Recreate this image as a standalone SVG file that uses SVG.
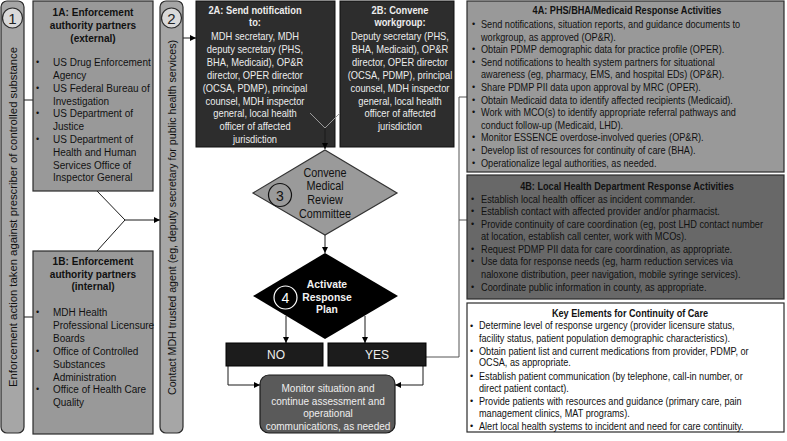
<svg xmlns="http://www.w3.org/2000/svg" width="787" height="441" viewBox="0 0 787 441">
<defs>
<marker id="arr" markerWidth="6" markerHeight="6" refX="6" refY="3" orient="auto" markerUnits="userSpaceOnUse"><path d="M0,0 L6,3 L0,6 z" fill="#000"/></marker>
<style>
text{font-family:"Liberation Sans",Arial,sans-serif;}
.bar{fill:#a6a6a6;stroke:#2b2b2b;stroke-width:1.2;}
.bc{fill:#d9d9d9;stroke:#2b2b2b;stroke-width:1.2;}
.bn{font-size:15px;fill:#222;text-anchor:middle;}
.vt{font-size:11px;fill:#111;text-anchor:middle;}
.mid{fill:#999999;stroke:#2b2b2b;stroke-width:1.2;}
.dk{fill:#2d2d2d;stroke:#111;stroke-width:1;}
.t11{font-size:11px;fill:#111;}
.t11b{font-size:11px;fill:#111;font-weight:bold;text-anchor:middle;}
.w11{font-size:10.6px;fill:#ececec;text-anchor:middle;}
.w11b{font-size:10.6px;fill:#ececec;font-weight:bold;text-anchor:middle;}
.r{font-size:10.5px;fill:#111;}
.rb{font-size:10.5px;fill:#111;font-weight:bold;text-anchor:middle;}
.bul{font-size:9px;fill:#111;}
.cn{fill:none;stroke:#1a1a1a;stroke-width:1;}
.cg{fill:none;stroke:#555;stroke-width:1;}
</style>
</defs>

<g id="connectors">
<path class="cn" d="M24,100 H33"/>
<path class="cn" d="M24,317 H33"/>
<path class="cn" d="M97,191 L125,220 L97,251"/>
<path class="cn" d="M125,220 H160" marker-end="url(#arr)"/>
<path class="cn" d="M183,38 H196" marker-end="url(#arr)"/>
<path class="cn" d="M325,235 V253" marker-end="url(#arr)"/>
<path class="cn" d="M286,316 V343" marker-end="url(#arr)"/>
<path class="cn" d="M365,316 V343" marker-end="url(#arr)"/>
<path class="cn" d="M228,366 V385 H260" marker-end="url(#arr)"/>
<path class="cn" d="M423,366 V385 H395" marker-end="url(#arr)"/>
<path class="cg" d="M426,357 H459 V97 H467 M459,220 H467"/>
</g>

<g id="bar1">
<rect class="bar" x="1" y="1" width="23" height="432" rx="6"/>
<circle class="bc" cx="12.5" cy="18" r="10"/>
<text class="bn" x="12.5" y="23.5">1</text>
<text class="vt" transform="translate(16.5 217) rotate(-90)" x="0" y="0" textLength="340" lengthAdjust="spacingAndGlyphs">Enforcement action taken against prescriber of controlled substance</text>
</g>

<g id="n1A">
<rect class="mid" x="33" y="1" width="120" height="190"/>
<g transform="translate(93 0) scale(0.92 1)">
<text class="t11b" x="0" y="16">1A: Enforcement</text>
<text class="t11b" x="0" y="29">authority partners</text>
<text class="t11b" x="0" y="42">(external)</text>
</g>
<g transform="translate(53 0) scale(0.91 1)">
<text class="t11" x="0" y="66">US Drug Enforcement</text>
<text class="t11" x="0" y="79">Agency</text>
<text class="t11" x="0" y="92">US Federal Bureau of</text>
<text class="t11" x="0" y="105">Investigation</text>
<text class="t11" x="0" y="117">US Department of</text>
<text class="t11" x="0" y="130">Justice</text>
<text class="t11" x="0" y="143">US Department of</text>
<text class="t11" x="0" y="156">Health and Human</text>
<text class="t11" x="0" y="169">Services Office of</text>
<text class="t11" x="0" y="181">Inspector General</text>
</g>
<text class="bul" x="36" y="65">•</text>
<text class="bul" x="36" y="91">•</text>
<text class="bul" x="36" y="116">•</text>
<text class="bul" x="36" y="142">•</text>
</g>

<g id="n1B">
<rect class="mid" x="33" y="251" width="120" height="183"/>
<g transform="translate(93 0) scale(0.92 1)">
<text class="t11b" x="0" y="265">1B: Enforcement</text>
<text class="t11b" x="0" y="278">authority partners</text>
<text class="t11b" x="0" y="290">(internal)</text>
</g>
<g transform="translate(53 0) scale(0.91 1)">
<text class="t11" x="0" y="316">MDH Health</text>
<text class="t11" x="0" y="329">Professional Licensure</text>
<text class="t11" x="0" y="342">Boards</text>
<text class="t11" x="0" y="355">Office of Controlled</text>
<text class="t11" x="0" y="368">Substances</text>
<text class="t11" x="0" y="381">Administration</text>
<text class="t11" x="0" y="393">Office of Health Care</text>
<text class="t11" x="0" y="406">Quality</text>
</g>
<text class="bul" x="36" y="315">•</text>
<text class="bul" x="36" y="354">•</text>
<text class="bul" x="36" y="392">•</text>
</g>

<g id="bar2">
<rect class="bar" x="160" y="1" width="23" height="432" rx="6"/>
<circle class="bc" cx="171.5" cy="18" r="10"/>
<text class="bn" x="171.5" y="23.5">2</text>
<text class="vt" transform="translate(175.5 217.5) rotate(-90)" x="0" y="0" textLength="355" lengthAdjust="spacingAndGlyphs">Contact MDH trusted agent (eg, deputy secretary for public health services)</text>
</g>

<g id="n2A">
<rect class="dk" x="196" y="1" width="139" height="146"/>
<g transform="translate(255 0) scale(0.88 1)">
<text class="w11b" x="0" y="14">2A: Send notification</text>
<text class="w11b" x="0" y="26">to:</text>
<text class="w11" x="0" y="40">MDH secretary, MDH</text>
<text class="w11" x="0" y="53">deputy secretary (PHS,</text>
<text class="w11" x="0" y="66">BHA, Medicaid), OP&amp;R</text>
<text class="w11" x="0" y="79">director, OPER director</text>
<text class="w11" x="0" y="92">(OCSA, PDMP), principal</text>
<text class="w11" x="0" y="105">counsel, MDH inspector</text>
<text class="w11" x="0" y="117">general, local health</text>
<text class="w11" x="0" y="130">officer of affected</text>
<text class="w11" x="0" y="143">jurisdiction</text>
</g>
</g>

<g id="n2B">
<rect class="dk" x="340" y="1" width="114" height="146"/>
<g transform="translate(400 0) scale(0.88 1)">
<text class="w11b" x="0" y="14">2B: Convene</text>
<text class="w11b" x="0" y="26">workgroup:</text>
<text class="w11" x="0" y="40">Deputy secretary (PHS,</text>
<text class="w11" x="0" y="53">BHA, Medicaid), OP&amp;R</text>
<text class="w11" x="0" y="66">director, OPER director</text>
<text class="w11" x="0" y="79">(OCSA, PDMP), principal</text>
<text class="w11" x="0" y="92">counsel, MDH inspector</text>
<text class="w11" x="0" y="105">general, local health</text>
<text class="w11" x="0" y="117">officer of affected</text>
<text class="w11" x="0" y="130">jurisdiction</text>
</g>
</g>

<g id="vjoin">
<path d="M310,113 L325,128 L340,113" fill="none" stroke="#9a9a9a" stroke-width="1"/>
<path d="M325,128 V149" fill="none" stroke="#1a1a1a" stroke-width="1" marker-end="url(#arr)"/>
</g>

<g id="n3">
<polygon points="325,150 397,193 325,235 253,193" fill="#9a9a9a" stroke="#333" stroke-width="1.2"/>
<circle cx="280" cy="195" r="11.5" fill="none" stroke="#111" stroke-width="1.2"/>
<text x="280" y="200.5" style="font-size:14px;fill:#111;text-anchor:middle">3</text>
<g transform="translate(325 0) scale(0.9 1)">
<text x="0" y="177" style="font-size:12px;fill:#111;text-anchor:middle">Convene</text>
<text x="0" y="190.5" style="font-size:12px;fill:#111;text-anchor:middle">Medical</text>
<text x="0" y="204.5" style="font-size:12px;fill:#111;text-anchor:middle">Review</text>
<text x="0" y="218" style="font-size:12px;fill:#111;text-anchor:middle">Committee</text>
</g>
</g>

<g id="n4">
<polygon points="325,253 398,296 325,339 253,296" fill="#000"/>
<circle cx="285.5" cy="297.5" r="11.5" fill="none" stroke="#fff" stroke-width="1.2"/>
<text x="285.5" y="303" style="font-size:14px;fill:#fff;text-anchor:middle">4</text>
<g transform="translate(327 0) scale(0.9 1)">
<text x="0" y="288" style="font-size:11.5px;fill:#f2f2f2;font-weight:bold;text-anchor:middle">Activate</text>
<text x="0" y="301" style="font-size:11.5px;fill:#f2f2f2;font-weight:bold;text-anchor:middle">Response</text>
<text x="0" y="313.5" style="font-size:11.5px;fill:#f2f2f2;font-weight:bold;text-anchor:middle">Plan</text>
</g>
</g>

<g id="nNO">
<rect x="226" y="343" width="97" height="23" fill="#1c1c1c" stroke="#000" stroke-width="1"/>
<text x="276" y="358.5" style="font-size:12px;fill:#eee;text-anchor:middle">NO</text>
</g>

<g id="nYES">
<rect x="328" y="343" width="98" height="23" fill="#1c1c1c" stroke="#000" stroke-width="1"/>
<text x="377" y="358.5" style="font-size:12px;fill:#eee;text-anchor:middle">YES</text>
</g>

<g id="nMonitor">
<rect x="260" y="375" width="135" height="58" rx="9" fill="#5a5a5a" stroke="#1a1a1a" stroke-width="1.2"/>
<g transform="translate(328 0) scale(0.88 1)">
<text x="0" y="392.3" style="font-size:11.4px;fill:#eee;text-anchor:middle">Monitor situation and</text>
<text x="0" y="404.7" style="font-size:11.4px;fill:#eee;text-anchor:middle">continue assessment and</text>
<text x="0" y="417.3" style="font-size:11.4px;fill:#eee;text-anchor:middle">operational</text>
<text x="0" y="430.5" style="font-size:11.4px;fill:#eee;text-anchor:middle">communications, as needed</text>
</g>
</g>

<g id="n4A">
<rect class="mid" x="467" y="1" width="317" height="171"/>
<g transform="translate(627 0) scale(0.87 1)">
<text class="rb" x="0" y="14.5">4A: PHS/BHA/Medicaid Response Activities</text>
</g>
<g transform="translate(481 0) scale(0.87 1)">
<text class="r" x="0" y="28">Send notifications, situation reports, and guidance documents to</text>
<text class="r" x="0" y="40.6">workgroup, as approved (OP&amp;R).</text>
<text class="r" x="0" y="53.2">Obtain PDMP demographic data for practice profile (OPER).</text>
<text class="r" x="0" y="65.8">Send notifications to health system partners for situational</text>
<text class="r" x="0" y="78.4">awareness (eg, pharmacy, EMS, and hospital EDs) (OP&amp;R).</text>
<text class="r" x="0" y="91">Share PDMP PII data upon approval by MRC (OPER).</text>
<text class="r" x="0" y="103.6">Obtain Medicaid data to identify affected recipients (Medicaid).</text>
<text class="r" x="0" y="116.2">Work with MCO(s) to identify appropriate referral pathways and</text>
<text class="r" x="0" y="128.8">conduct follow-up (Medicaid, LHD).</text>
<text class="r" x="0" y="141.4">Monitor ESSENCE overdose-involved queries (OP&amp;R).</text>
<text class="r" x="0" y="154">Develop list of resources for continuity of care (BHA).</text>
<text class="r" x="0" y="166.6">Operationalize legal authorities, as needed.</text>
</g>
<g class="bul">
<text class="bul" x="472" y="27">•</text>
<text class="bul" x="472" y="52">•</text>
<text class="bul" x="472" y="65">•</text>
<text class="bul" x="472" y="90">•</text>
<text class="bul" x="472" y="103">•</text>
<text class="bul" x="472" y="115">•</text>
<text class="bul" x="472" y="140">•</text>
<text class="bul" x="472" y="153">•</text>
<text class="bul" x="472" y="166">•</text>
</g>
</g>

<g id="n4B">
<rect x="467" y="175" width="317" height="124" fill="#686868" stroke="#2b2b2b" stroke-width="1.2"/>
<g transform="translate(627 0) scale(0.87 1)">
<text class="rb" x="0" y="190">4B: Local Health Department Response Activities</text>
</g>
<g transform="translate(481 0) scale(0.88 1)">
<text class="r" x="0" y="202.7">Establish local health officer as incident commander.</text>
<text class="r" x="0" y="215.4">Establish contact with affected provider and/or pharmacist.</text>
<text class="r" x="0" y="228">Provide continuity of care coordination (eg, post LHD contact number</text>
<text class="r" x="0" y="240.4">at location, establish call center, work with MCOs).</text>
<text class="r" x="0" y="253">Request PDMP PII data for care coordination, as appropriate.</text>
<text class="r" x="0" y="265.4">Use data for response needs (eg, harm reduction services via</text>
<text class="r" x="0" y="278">naloxone distribution, peer navigation, mobile syringe services).</text>
<text class="r" x="0" y="291">Coordinate public information in county, as appropriate.</text>
</g>
<text class="bul" x="471" y="202">•</text>
<text class="bul" x="471" y="214">•</text>
<text class="bul" x="471" y="227">•</text>
<text class="bul" x="471" y="252">•</text>
<text class="bul" x="471" y="264">•</text>
<text class="bul" x="471" y="290">•</text>
</g>

<g id="nKey">
<rect x="467" y="303" width="317" height="129" fill="#fff" stroke="#2b2b2b" stroke-width="1.2"/>
<g transform="translate(630 0) scale(0.87 1)">
<text class="rb" x="0" y="317">Key Elements for Continuity of Care</text>
</g>
<g transform="translate(479 0) scale(0.87 1)">
<text class="r" x="0" y="329.5">Determine level of response urgency (provider licensure status,</text>
<text class="r" x="0" y="342">facility status, patient population demographic characteristics).</text>
<text class="r" x="0" y="354.7">Obtain patient list and current medications from provider, PDMP, or</text>
<text class="r" x="0" y="366.5">OCSA, as appropriate.</text>
<text class="r" x="0" y="379.7">Establish patient communication (by telephone, call-in number, or</text>
<text class="r" x="0" y="392">direct patient contact).</text>
<text class="r" x="0" y="404.7">Provide patients with resources and guidance (primary care, pain</text>
<text class="r" x="0" y="417">management clinics, MAT programs).</text>
<text class="r" x="0" y="430">Alert local health systems to incident and need for care continuity.</text>
</g>
<text class="bul" x="470" y="329">•</text>
<text class="bul" x="470" y="354">•</text>
<text class="bul" x="470" y="379">•</text>
<text class="bul" x="470" y="404">•</text>
<text class="bul" x="470" y="429">•</text>
</g>
</svg>
